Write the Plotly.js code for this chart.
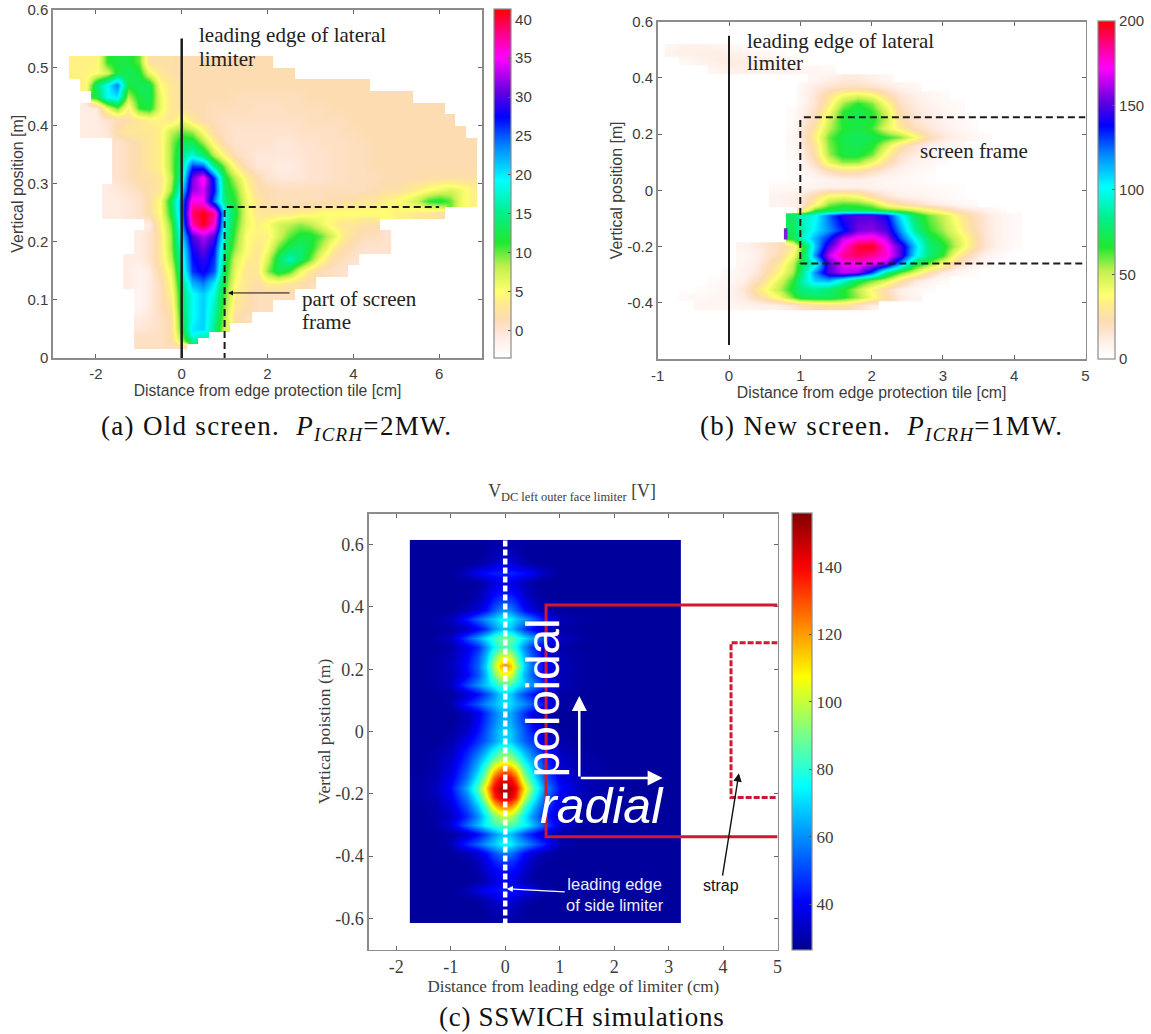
<!DOCTYPE html>
<html><head><meta charset="utf-8">
<script src="https://cdn.plot.ly/plotly-3.0.1.min.js"></script>
<style>html,body{margin:0;padding:0;background:#fff}#g{width:1151px;height:1034px}</style>
</head><body><div id="g"></div>
<script>
var _ = null;
// Panel (a)
var xA = [-2.5,-2.25,-2,-1.75,-1.5,-1.25,-1,-.75,-.5,-.25,0,.25,.5,.75,1,1.25,1.5,1.75,2,2.25,2.5,2.75,3,3.25,3.5,3.75,4,4.25,4.5,4.75,5,5.25,5.5,5.75,6,6.25,6.5,6.75];
var yA = [.51,.49,.47,.45,.43,.41,.39,.37,.35,.33,.31,.29,.27,.25,.23,.21,.19,.17,.15,.13,.11,.09,.07,.05,.04,.03,.02];
var zA = [
[4,4,4,11,12,12,10,2,2,2,1.5,1.5,1.5,1.5,1.5,1.5,1.5,1.5,1.5],
[4,4,5,7,12,13,12,6,3,2,1.5,1.5,1.5,1.5,1.5,1.5,1.5,1.5,1.5,1.5,1.5],
[_,4,14,19,24,12,13,13,5,3,2,1.5,1.5,1.5,1.5,1.5,1.5,1.5,1.5,1.5,1.5,1.5,1.5,1.5,1.5,1.5,1.5,1.5],
[_,_,12,19,20,8,12,13,6,3,2,1.5,1.5,1.5,1.5,1,1,1,1,1,1,1,1.5,1.5,1.5,1.5,1.5,1.5,1.5,1.5,1.5,1.5],
[_,-1,-1,6,10,4,11,12,6,3,2,1.5,1.5,1,1,1,1,.5,.5,.5,1,1,1,1,1.5,1.5,1.5,1.5,1.5,1.5,1.5,1.5,1.5,1.5,1.5],
[_,-1,-1,0,1,2,3,4,4,3,6,3,1.5,1,.5,.5,.5,.5,.5,.5,.5,.5,1,1,1,1,1.5,1.5,1.5,1.5,1.5,1.5,1.5,1.5,1.5,1.5],
[_,-1,-1,-.5,2,3,3,3,4,8,10,9,5,1.5,.5,0,0,0,0,0,0,.5,.5,.5,.5,1,1,1.5,1.5,1.5,1.5,1.5,1.5,1.5,1.5,1.5,1.5],
[_,_,_,_,0,1,2,3,4,9,13,13,9,4,1,0,0,0,0,-.5,-.5,0,0,.5,.5,.5,1,1,1.5,1.5,1.5,1.5,1.5,1.5,1.5,1.5,1.5,1.5],
[_,_,_,_,0,1,2,3,4,9,15,18,14,8,4,1,0,-.5,-.5,-.5,-.5,-.5,0,0,.5,.5,1,1,1.5,1.5,1.5,1.5,1.5,1.5,1.5,1.5,1.5,1.5],
[_,_,_,_,0,1,2,3,4,9,16,26,25,15,9,4,1,-.5,-.5,-1,-1,-.5,0,0,.5,.5,1,1,1.5,1.5,1.5,1.5,1.5,1.5,1.5,1.5,1.5,1.5],
[_,_,_,_,0,1,2,2,3,8,18,31,36,26,12,8,4,1.5,0,-.5,-.5,-.5,0,0,.5,.5,1,1,1,1.5,1.5,1.5,1.5,2,2,2,2,2],
[_,_,_,-1,-.5,0,1,2,3,9,21,32,34,27,13,10,5,2,1.5,1,1,1,1,1,1,1,1,1,1.5,2,2,3,4,5,6,7,6,4],
[_,_,_,-1,-1,-.5,0,2,5,13,24,36,35,24,14,11,6,3,1.5,1,1,1,1,1,1.5,2,2,3,3,4,5,6,8,11,12,10,6,4],
[_,_,_,-1,-1,-.5,0,2,5,12,24,39,41,38,18,12,6,3,3,3,3,4,4,5,5,5,5,5,5,5,4,4,3,3,2],
[_,_,_,_,_,_,_,-1,4,10,23,37,41,36,17,11,6,4,5,7,8,9,8,6,4,3,3,2,2],
[_,_,_,_,_,_,-1,0,3,9,21,30,33,30,16,10,5,4,4,7,10,12,12,10,7,4,2,1,1,0],
[_,_,_,_,_,_,-1,0,3,9,19,28,31,27,14,9,5,3,5,10,13,14,12,8,4,2,1,0,0,0],
[_,_,_,_,_,-1,-1,0,3,8,18,27,29,26,13,7,4,3,7,13,17,14,10,5,2,1,0],
[_,_,_,_,_,-1,-2,-1,2,6,17,26,28,25,12,6,3,3,9,13,11,6,3,1,.5,0],
[_,_,_,_,_,-1,-2,-1,1,5,15,22,24,20,11,5,3,2,4,4,3,2,1],
[_,_,_,_,_,_,-2,-1,1,4,14,19,21,18,10,4,2,1,1,1,1],
[_,_,_,_,_,_,-2,-1,1,3,14,19,21,17,9,3,2,1,1],
[_,_,_,_,_,_,-1,-.5,.5,2,13,19,21,16,8,2,1],
[_,_,_,_,_,_,-.5,0,.5,2,12,20,21,15,7],
[_,_,_,_,_,_,.5,.5,.5,2,10,19,17],
[_,_,_,_,_,_,.5,.5,.5,2,8,15],
[_,_,_,_,_,_,.5,.5,.5,1,1]
];
var ticksAX = [-2,0,2,4,6];
var ticksAY = [0,.1,.2,.3,.4,.5,.6];
var ticksAC = [0,5,10,15,20,25,30,35,40];

// Panel (b)
var xB = [-.8,-.6,-.4,-.2,0,.2,.4,.7,.9,1,1.2,1.4,1.6,1.8,2,2.2,2.4,2.6,2.8,3,3.2,3.4,3.6,3.8,4];
var yB = [.51,.49,.46,.43,.40,.37,.34,.31,.28,.25,.22,.19,.16,.13,.10,.07,.04,.01,-.02,-.05,-.07,-.09,-.14,-.17,-.20,-.23,-.26,-.29,-.32,-.35,-.38,-.41];
var zB = [
[6,10,10,8,6,3],
[8,10,11,11,10,9,6,3],
[_,5,8,11,12,12,11,8,6,3],
[_,_,_,6,10,10,10,8,8,6,6,4],
[_,_,_,_,_,_,_,_,_,_,5,10,12,12,10,6],
[_,_,_,_,_,_,_,_,_,4,12,15,18,18,16,12,8,5],
[_,_,_,_,_,_,_,_,_,5,15,28,40,45,40,25,15,10,6,3],
[_,_,_,_,_,_,_,_,_,5,15,32,55,66,58,38,18,12,8,5,3],
[_,_,_,_,_,_,_,_,3,8,18,40,65,72,65,48,22,14,10,7,4],
[_,_,_,_,_,_,_,_,3,10,22,48,68,72,68,52,26,16,12,9,5,3],
[_,_,_,_,_,_,_,_,3,12,28,52,66,70,64,45,32,20,14,10,6,3],
[_,_,_,_,_,_,_,_,5,12,34,60,72,75,72,66,58,40,22,14,10,6,3],
[_,_,_,_,_,_,_,_,4,10,28,58,70,72,68,48,28,16,10,7,4],
[_,_,_,_,_,_,_,_,3,8,26,55,70,70,60,36,18,12,8,5,2],
[_,_,_,_,_,_,_,_,2,6,20,44,56,55,42,25,14,8,5,2],
[_,_,_,_,_,_,_,_,2,4,12,22,28,28,20,13,8,5,3],
[_,_,_,_,_,_,_,_,1,3,6,8,10,10,8,6,4,3,1],
[_,_,_,_,_,_,_,4,5,6,8,10,10,10,8,7,6,5,4,3,2],
[_,_,_,_,_,_,_,8,10,12,26,40,42,38,25,15,10,8,6,4,2],
[_,_,_,_,_,_,_,8,10,12,35,58,64,62,55,35,25,20,14,10,6,3],
[_,_,_,_,_,_,_,_,_,20,65,72,75,75,72,65,60,50,40,30,20,14,8,3],
[_,_,_,_,_,_,_,_,75,90,100,125,145,150,150,140,105,75,60,50,35,22,14,8,4],
[_,_,_,_,_,_,_,_,75,85,105,120,135,155,158,150,120,85,65,55,40,25,14,8,4],
[_,_,_,_,_,_,_,_,70,90,115,135,165,175,178,165,130,100,75,62,48,30,15,8,4],
[_,_,_,_,_,8,12,20,30,55,110,150,175,195,198,175,150,110,80,70,50,30,15,8,3],
[_,_,_,_,_,5,10,22,40,60,120,165,185,190,185,178,150,105,80,65,35,18,8,3],
[_,_,_,_,_,6,12,30,50,70,95,150,170,175,170,160,120,75,60,40,20,10,4],
[_,_,_,_,4,8,15,35,55,75,120,150,165,160,130,85,62,45,25,12,6,2],
[_,_,_,3,5,10,20,45,65,85,110,115,95,72,60,48,30,14,8,3],
[_,_,2,4,8,14,30,52,70,80,85,78,68,52,35,22,10,5,2],
[_,4,5,6,8,12,22,40,60,72,75,75,68,55,40,25,12,8],
[_,_,6,6,6,8,8,10,14,18,22,25,25,18,10]
];
var ticksBX = [-1,0,1,2,3,4,5];
var ticksBY = [-.4,-.2,0,.2,.4,.6];
var ticksBC = [0,50,100,150,200];

// Panel (c)
var xC = [-1.6,-1.3,-1,-.7,-.5,-.35,-.2,-.1,0,.1,.2,.35,.5,.7,1,1.4,2,2.7,3.05];
var yC = [.60,.57,.54,.51,.48,.45,.42,.39,.36,.33,.30,.27,.24,.21,.18,.15,.12,.09,.06,.03,0,-.03,-.06,-.09,-.12,-.15,-.18,-.21,-.24,-.27,-.30,-.33,-.36,-.39,-.42,-.45,-.48,-.51,-.54,-.57,-.60];
var zC = [
[28,28,28,28,28,29,30,30,30,30,30,29,28,28,28,28,28,28,28],
[28,28,28,28,28,29,31,32,32,32,31,29,28,28,28,28,28,28,28],
[28,28,28,28,29,31,34,36,36,36,34,31,29,28,28,28,28,28,28],
[28,28,28,33,39,42,44,45,46,45,44,42,39,33,28,28,28,28,28],
[28,28,28,28,29,32,36,38,38,38,36,32,29,28,28,28,28,28,28],
[28,28,28,28,30,34,39,41,42,41,39,34,30,28,28,28,28,28,28],
[28,28,28,29,32,37,45,49,50,49,45,37,32,29,28,28,28,28,28],
[28,28,28,31,36,42,52,58,60,58,52,42,36,31,28,28,28,28,28],
[28,29,32,44,54,62,68,74,76,74,68,62,54,44,32,29,28,28,28],
[28,28,29,33,40,48,60,66,68,66,60,48,40,33,29,28,28,28,28],
[28,29,33,50,62,72,82,88,90,88,82,72,62,50,33,29,28,28,28],
[28,28,30,38,46,60,75,83,85,83,75,60,46,38,30,28,28,28,28],
[28,29,31,40,52,66,88,102,105,102,88,66,52,40,31,29,28,28,28],
[28,29,32,42,54,70,97,114,124,114,97,70,54,42,32,29,28,28,28],
[28,29,31,40,52,66,88,102,105,102,88,66,52,40,31,29,28,28,28],
[28,29,32,50,60,68,76,83,85,83,76,68,60,50,32,29,28,28,28],
[28,28,29,34,42,50,60,68,70,68,60,50,42,34,29,28,28,28,28],
[28,28,30,44,52,60,65,70,72,70,65,60,52,44,30,28,28,28,28],
[28,28,28,32,38,47,57,63,65,63,57,47,38,32,28,28,28,28,28],
[28,28,28,32,40,49,58,64,66,64,58,49,40,32,28,28,28,28,28],
[28,28,29,34,43,52,62,68,70,68,62,52,43,34,29,28,28,28,28],
[28,28,30,38,47,54,62,68,70,68,62,54,47,38,30,28,28,28,28],
[28,29,32,44,54,64,75,83,85,83,75,64,54,44,32,29,28,28,28],
[28,30,34,48,62,74,90,98,100,98,90,74,62,48,34,30,28,28,28],
[28,30,36,52,68,86,110,120,125,120,110,86,68,52,36,30,28,28,28],
[29,31,38,56,76,96,128,138,142,138,128,96,76,56,38,31,29,28,28],
[29,32,42,64,86,112,140,148,152,148,140,112,86,64,42,32,29,28,28],
[29,31,39,58,78,102,134,144,148,144,134,102,78,58,39,31,29,28,28],
[28,30,36,52,68,86,112,122,125,122,112,86,68,52,36,30,28,28,28],
[28,29,33,46,60,74,90,98,100,98,90,74,60,46,33,29,28,28,28],
[28,29,36,54,66,76,82,86,88,86,82,76,66,54,36,29,28,28,28],
[28,28,29,34,42,50,60,66,68,66,60,50,42,34,29,28,28,28,28],
[28,28,31,46,54,62,68,74,76,74,68,62,54,46,31,28,28,28,28],
[28,28,28,31,35,42,51,56,58,56,51,42,35,31,28,28,28,28,28],
[28,28,28,29,32,37,44,47,48,47,44,37,32,29,28,28,28,28,28],
[28,28,28,28,30,34,39,41,42,41,39,34,30,28,28,28,28,28,28],
[28,28,28,28,29,32,36,38,38,38,36,32,29,28,28,28,28,28,28],
[28,28,28,31,37,40,42,43,44,43,42,40,37,31,28,28,28,28,28],
[28,28,28,28,29,31,34,36,36,36,34,31,29,28,28,28,28,28,28],
[28,28,28,28,28,29,31,32,32,32,31,29,28,28,28,28,28,28,28],
[28,28,28,28,28,29,30,30,30,30,30,29,28,28,28,28,28,28,28]
];
var ticksCX = [-2,-1,0,1,2,3,4,5];
var ticksCY = [-.6,-.4,-.2,0,.2,.4,.6];
var ticksCC = [40,60,80,100,120,140];

var W = 1151, H = 1034;
function px(v){return v/W;}
function py(v){return 1-v/H;}
function pad(m,n){return m.map(function(r){r=r.slice();while(r.length<n)r.push(null);return r;});}

var scalePale = [[0,'#ffffff'],[.05,'#fff0ea'],[.08,'#ffe3cf'],[.115,'#fddcb0'],[.16,'#ffec8c'],[.19,'#ffff70'],[.26,'#c4f050'],[.33,'#20e830'],[.42,'#00f090'],[.51,'#00ffff'],[.6,'#0090ff'],[.69,'#0000ff'],[.76,'#6000e0'],[.86,'#ff00ff'],[.93,'#ff0088'],[1,'#ff0000']];
var jet = [[0,'#00008f'],[.11,'#0000ff'],[.375,'#00ffff'],[.625,'#ffff00'],[.875,'#ff0000'],[1,'#800000']];

var SANS='"Liberation Sans",Arial,sans-serif', SERIF='"Liberation Serif","Times New Roman",serif';
var G='#3c3c3c', FR='#8c8c8c';

function cb(x0,x1,y0,y1,vals,font,fs){return {x:px(x0),xanchor:'left',xpad:0,ypad:0,thickness:x1-x0,thicknessmode:'pixels',
  y:py((y0+y1)/2),yanchor:'middle',len:(y1-y0)/H,lenmode:'fraction',tickvals:vals,ticks:'inside',ticklen:3,tickcolor:'#555',
  outlinecolor:FR,outlinewidth:1.2,tickfont:{family:font,size:fs,color:G}};}

var traces = [
 {type:'heatmap',x:xA,y:yA,z:pad(zA,xA.length),zsmooth:'best',colorscale:scalePale,zmin:-3.6,zmax:41.3,xaxis:'x',yaxis:'y',colorbar:cb(494,511,9.5,358,ticksAC,SANS,15)},
 {type:'heatmap',x:xB,y:yB,z:pad(zB,xB.length),zsmooth:'best',colorscale:scalePale,zmin:0,zmax:200,xaxis:'x2',yaxis:'y2',colorbar:cb(1097.5,1114.5,20.7,359,ticksBC,SANS,15)},
 {type:'heatmap',x:xC,y:yC,z:zC,zsmooth:'best',colorscale:jet,zmin:26.4,zmax:156,xaxis:'x3',yaxis:'y3',colorbar:cb(791.5,811,513,950,ticksCC,SERIF,17)}
];

function ax(x0,x1,range,vals,title,font,fs,tfs,anchor,stand,off){return {domain:[px(x0),px(x1)],range:range,tickvals:vals,ticktext:vals.map(String),anchor:anchor,
  showline:true,linecolor:FR,linewidth:1.6,mirror:'allticks',ticks:'inside',ticklen:4,tickcolor:'#666',showgrid:false,zeroline:false,ticklabelstandoff:off||0,
  tickfont:{family:font,size:fs,color:G},title:{text:title,font:{family:font,size:tfs,color:G},standoff:stand},automargin:false};}
function ay(y0,y1,range,vals,title,font,fs,tfs,anchor,stand){var a=ax(0,1,range,vals,title,font,fs,tfs,anchor,stand);a.domain=[py(y1),py(y0)];return a;}

var DK='#1c1c1c';
function note(xr,yr,x,y,t,sz){return {xref:xr,yref:yr,x:x,y:y,xanchor:'left',yanchor:'middle',showarrow:false,text:t,font:{family:SERIF,size:sz||21,color:'#222'}};}
function cap(x,y,t,ls){return {xref:'paper',yref:'paper',x:px(x),y:py(y),xanchor:'center',yanchor:'middle',showarrow:false,text:'<span style="letter-spacing:'+ls+'px">'+t+'</span>',font:{family:SERIF,size:27,color:'#111'}};}
var layout = {width:W,height:H,margin:{l:0,r:0,t:0,b:0},paper_bgcolor:'#fff',plot_bgcolor:'#fff',showlegend:false,
 title:{text:'V<sub>DC left outer face limiter</sub> [V]',font:{family:SERIF,size:17.8,color:G},x:572/W,xanchor:'center',y:py(491),yanchor:'middle'},
 xaxis:ax(53,482,[-3,7],ticksAX,'Distance from edge protection tile [cm]',SANS,15,15.7,'y',0,1),
 yaxis:ay(9.5,358,[0,.6],ticksAY,'Vertical position [m]',SANS,15,15.9,'x',0),
 xaxis2:ax(657.7,1085.5,[-1,5],ticksBX,'Distance from edge protection tile [cm]',SANS,15,15.8,'y2',0,2),
 yaxis2:ay(21.7,359,[-.6,.6],ticksBY,'Vertical position [m]',SANS,15,15.9,'x2',0),
 xaxis3:ax(369,777.6,[-2.5,5],ticksCX,'Distance from leading edge of limiter (cm)',SERIF,18,17,'y3',0),
 yaxis3:ay(513.5,949.5,[-.7,.7],ticksCY,'Vertical poistion (m)',SERIF,18,17.6,'x3',0),
 shapes:[
  {xref:'x',yref:'y',type:'line',x0:0,x1:0,y0:0,y1:.55,line:{color:DK,width:2.5}},
  {xref:'x',yref:'y',type:'line',x0:1.05,x1:6,y0:.26,y1:.26,line:{color:DK,width:2,dash:'7px,4px'}},
  {xref:'x',yref:'y',type:'line',x0:1,x1:1,y0:.255,y1:0,line:{color:DK,width:2,dash:'7px,4px'}},
  {xref:'x2',yref:'y2',type:'line',x0:0,x1:0,y0:-.55,y1:.55,line:{color:DK,width:2}},
  {xref:'x2',yref:'y2',type:'line',x0:1.05,x1:5,y0:.26,y1:.26,line:{color:DK,width:2,dash:'7px,4px'}},
  {xref:'x2',yref:'y2',type:'line',x0:1,x1:1,y0:.25,y1:-.26,line:{color:DK,width:2,dash:'7px,4px'}},
  {xref:'x2',yref:'y2',type:'line',x0:1,x1:5,y0:-.26,y1:-.26,line:{color:DK,width:2,dash:'7px,4px'}},
  {xref:'x2',yref:'y2',type:'rect',x0:.77,x1:.82,y0:-.175,y1:-.135,fillcolor:'#7a20d8',line:{width:0}},
  {xref:'x3',yref:'y3',type:'line',x0:0,x1:0,y0:-.62,y1:.62,line:{color:'#fff',width:4.5,dash:'6px,3px'}},
  {xref:'x3',yref:'y3',type:'path',path:'M 5 .406 L .75 .406 L .75 -.338 L 5 -.338',line:{color:'#d01830',width:3}},
  {xref:'x3',yref:'y3',type:'path',path:'M 5 .285 L 4.145 .285 L 4.145 -.212 L 5 -.212',line:{color:'#d01830',width:3,dash:'6px,2px'}}
 ],
 annotations:[
  note('x','y',.36,.556,'leading edge of lateral'),
  note('x','y',.36,.515,'limiter'),
  note('x','y',2.75,.101,'part of screen'),
  note('x','y',2.75,.062,'frame'),
  {xref:'x',yref:'y',axref:'x',ayref:'y',x:1.08,y:.112,ax:2.55,ay:.112,text:'',showarrow:true,arrowhead:2,arrowsize:1,arrowwidth:1,arrowcolor:'#111'},
  note('x2','y2',.226,.533,'leading edge of lateral'),
  note('x2','y2',.226,.453,'limiter'),
  note('x2','y2',2.65,.139,'screen frame'),
  {xref:'x3',yref:'y3',x:.70,y:.108,textangle:-90,showarrow:false,text:'poloidal',font:{family:SANS,size:46,color:'#fff'}},
  {xref:'x3',yref:'y3',x:1.78,y:-.238,showarrow:false,text:'<i>radial</i>',font:{family:SANS,size:50,color:'#fff'}},
  {xref:'x3',yref:'y3',axref:'x3',ayref:'y3',x:1.36,y:.114,ax:1.36,ay:-.149,text:'',showarrow:true,arrowhead:2,arrowsize:1.2,arrowwidth:2.5,arrowcolor:'#fff'},
  {xref:'x3',yref:'y3',axref:'x3',ayref:'y3',x:2.89,y:-.149,ax:1.36,ay:-.149,text:'',showarrow:true,arrowhead:2,arrowsize:1.2,arrowwidth:2.5,arrowcolor:'#fff'},
  {xref:'x3',yref:'y3',axref:'x3',ayref:'y3',x:.03,y:-.505,ax:2.02,ay:-.524,showarrow:true,arrowhead:2,arrowsize:1,arrowwidth:1.2,arrowcolor:'#fff',align:'center',text:'leading edge<br>of side limiter',font:{family:SANS,size:16.5,color:'#eef'}},
  {xref:'x3',yref:'y3',axref:'x3',ayref:'y3',x:4.29,y:-.134,ax:3.96,ay:-.495,showarrow:true,arrowhead:2,arrowsize:1.2,arrowwidth:1.4,arrowcolor:'#111',text:'strap',font:{family:SANS,size:16,color:'#111'}},
  cap(276,428,'(a) Old screen.  <i>P</i><sub><i>ICRH</i></sub>=2MW.',1.3),
  cap(881,428,'(b) New screen.  <i>P</i><sub><i>ICRH</i></sub>=1MW.',1.3),
  cap(581,1017,'(c) SSWICH simulations',.7)
 ]
};
Plotly.newPlot('g',traces,layout,{staticPlot:true,displayModeBar:false});
</script></body></html>
